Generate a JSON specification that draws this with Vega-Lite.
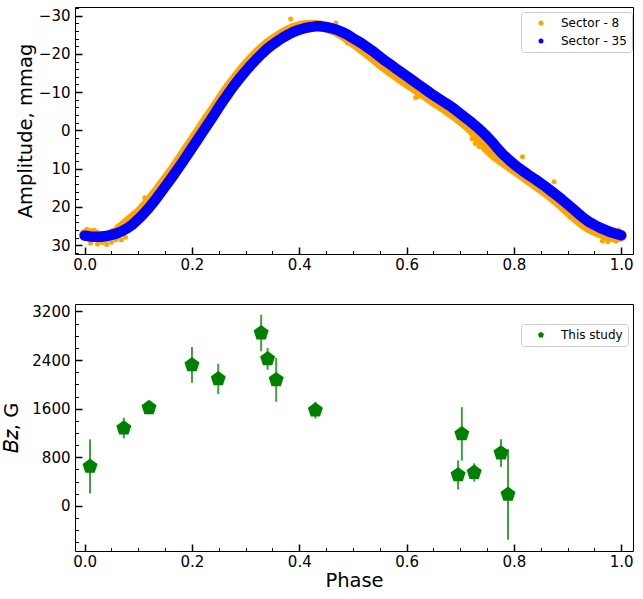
{
  "$schema": "https://vega.github.io/schema/vega-lite/v6.json",
  "padding": {"left": 1, "top": 6, "right": 7, "bottom": 5},
  "config": {
    "font": "DejaVu Sans",
    "view": {"stroke": "black", "strokeWidth": 1},
    "axis": {
      "domain": false, "grid": false,
      "tickColor": "black", "labelColor": "black", "titleColor": "black",
      "labelFontSize": 15, "titleFontSize": 19.5, "titleFontWeight": "normal",
      "labelOverlap": false, "labelBound": false, "labelFlush": false
    },
    "legend": {
      "strokeColor": "#cccccc", "fillColor": "white", "cornerRadius": 3,
      "padding": 5, "labelFontSize": 12, "labelColor": "black",
      "rowPadding": 6, "labelOffset": 14, "symbolOffset": 9, "symbolStrokeWidth": 0
    }
  },
  "datasets": {
    "lightcurve": [
      {"phase":0.00,"amp":27.2,"sector":"Sector - 8"},{"phase":0.01,"amp":27.0,"sector":"Sector - 8"},{"phase":0.02,"amp":27.3,"sector":"Sector - 8"},{"phase":0.03,"amp":27.9,"sector":"Sector - 8"},{"phase":0.04,"amp":27.8,"sector":"Sector - 8"},
      {"phase":0.05,"amp":27.2,"sector":"Sector - 8"},{"phase":0.06,"amp":26.5,"sector":"Sector - 8"},{"phase":0.07,"amp":25.2,"sector":"Sector - 8"},{"phase":0.08,"amp":24.0,"sector":"Sector - 8"},{"phase":0.09,"amp":22.8,"sector":"Sector - 8"},
      {"phase":0.10,"amp":21.7,"sector":"Sector - 8"},{"phase":0.11,"amp":20.2,"sector":"Sector - 8"},{"phase":0.12,"amp":18.6,"sector":"Sector - 8"},{"phase":0.13,"amp":16.8,"sector":"Sector - 8"},{"phase":0.14,"amp":14.9,"sector":"Sector - 8"},
      {"phase":0.15,"amp":13.1,"sector":"Sector - 8"},{"phase":0.16,"amp":11.2,"sector":"Sector - 8"},{"phase":0.17,"amp":9.2,"sector":"Sector - 8"},{"phase":0.18,"amp":7.1,"sector":"Sector - 8"},{"phase":0.19,"amp":5.0,"sector":"Sector - 8"},
      {"phase":0.20,"amp":2.9,"sector":"Sector - 8"},{"phase":0.21,"amp":0.8,"sector":"Sector - 8"},{"phase":0.22,"amp":-1.3,"sector":"Sector - 8"},{"phase":0.23,"amp":-3.4,"sector":"Sector - 8"},{"phase":0.24,"amp":-5.4,"sector":"Sector - 8"},
      {"phase":0.25,"amp":-7.5,"sector":"Sector - 8"},{"phase":0.26,"amp":-9.6,"sector":"Sector - 8"},{"phase":0.27,"amp":-11.6,"sector":"Sector - 8"},{"phase":0.28,"amp":-13.4,"sector":"Sector - 8"},{"phase":0.29,"amp":-15.2,"sector":"Sector - 8"},
      {"phase":0.30,"amp":-16.9,"sector":"Sector - 8"},{"phase":0.31,"amp":-18.5,"sector":"Sector - 8"},{"phase":0.32,"amp":-19.9,"sector":"Sector - 8"},{"phase":0.33,"amp":-21.3,"sector":"Sector - 8"},{"phase":0.34,"amp":-22.5,"sector":"Sector - 8"},
      {"phase":0.35,"amp":-23.5,"sector":"Sector - 8"},{"phase":0.36,"amp":-24.5,"sector":"Sector - 8"},{"phase":0.37,"amp":-25.3,"sector":"Sector - 8"},{"phase":0.38,"amp":-26.1,"sector":"Sector - 8"},{"phase":0.39,"amp":-26.7,"sector":"Sector - 8"},
      {"phase":0.40,"amp":-27.1,"sector":"Sector - 8"},{"phase":0.41,"amp":-27.4,"sector":"Sector - 8"},{"phase":0.42,"amp":-27.5,"sector":"Sector - 8"},{"phase":0.43,"amp":-27.5,"sector":"Sector - 8"},{"phase":0.44,"amp":-27.3,"sector":"Sector - 8"},
      {"phase":0.45,"amp":-27.0,"sector":"Sector - 8"},{"phase":0.46,"amp":-26.5,"sector":"Sector - 8"},{"phase":0.47,"amp":-25.9,"sector":"Sector - 8"},{"phase":0.48,"amp":-25.1,"sector":"Sector - 8"},{"phase":0.49,"amp":-24.1,"sector":"Sector - 8"},
      {"phase":0.50,"amp":-23.1,"sector":"Sector - 8"},{"phase":0.51,"amp":-22.1,"sector":"Sector - 8"},{"phase":0.52,"amp":-21.0,"sector":"Sector - 8"},{"phase":0.53,"amp":-19.9,"sector":"Sector - 8"},{"phase":0.54,"amp":-18.8,"sector":"Sector - 8"},
      {"phase":0.55,"amp":-17.6,"sector":"Sector - 8"},{"phase":0.56,"amp":-16.5,"sector":"Sector - 8"},{"phase":0.57,"amp":-15.4,"sector":"Sector - 8"},{"phase":0.58,"amp":-14.5,"sector":"Sector - 8"},{"phase":0.59,"amp":-13.5,"sector":"Sector - 8"},
      {"phase":0.60,"amp":-12.5,"sector":"Sector - 8"},{"phase":0.61,"amp":-11.6,"sector":"Sector - 8"},{"phase":0.62,"amp":-10.6,"sector":"Sector - 8"},{"phase":0.63,"amp":-9.7,"sector":"Sector - 8"},{"phase":0.64,"amp":-8.7,"sector":"Sector - 8"},
      {"phase":0.65,"amp":-7.7,"sector":"Sector - 8"},{"phase":0.66,"amp":-6.8,"sector":"Sector - 8"},{"phase":0.67,"amp":-5.9,"sector":"Sector - 8"},{"phase":0.68,"amp":-4.9,"sector":"Sector - 8"},{"phase":0.69,"amp":-3.9,"sector":"Sector - 8"},
      {"phase":0.70,"amp":-2.8,"sector":"Sector - 8"},{"phase":0.71,"amp":-1.7,"sector":"Sector - 8"},{"phase":0.72,"amp":-0.4,"sector":"Sector - 8"},{"phase":0.73,"amp":1.2,"sector":"Sector - 8"},{"phase":0.74,"amp":2.9,"sector":"Sector - 8"},
      {"phase":0.75,"amp":4.6,"sector":"Sector - 8"},{"phase":0.76,"amp":6.0,"sector":"Sector - 8"},{"phase":0.77,"amp":7.1,"sector":"Sector - 8"},{"phase":0.78,"amp":8.1,"sector":"Sector - 8"},{"phase":0.79,"amp":9.1,"sector":"Sector - 8"},
      {"phase":0.80,"amp":10.1,"sector":"Sector - 8"},{"phase":0.81,"amp":11.1,"sector":"Sector - 8"},{"phase":0.82,"amp":12.1,"sector":"Sector - 8"},{"phase":0.83,"amp":13.1,"sector":"Sector - 8"},{"phase":0.84,"amp":14.1,"sector":"Sector - 8"},
      {"phase":0.85,"amp":15.1,"sector":"Sector - 8"},{"phase":0.86,"amp":16.1,"sector":"Sector - 8"},{"phase":0.87,"amp":17.2,"sector":"Sector - 8"},{"phase":0.88,"amp":18.4,"sector":"Sector - 8"},{"phase":0.89,"amp":19.6,"sector":"Sector - 8"},
      {"phase":0.90,"amp":20.9,"sector":"Sector - 8"},{"phase":0.91,"amp":22.2,"sector":"Sector - 8"},{"phase":0.92,"amp":23.4,"sector":"Sector - 8"},{"phase":0.93,"amp":24.5,"sector":"Sector - 8"},{"phase":0.94,"amp":25.4,"sector":"Sector - 8"},
      {"phase":0.95,"amp":26.1,"sector":"Sector - 8"},{"phase":0.96,"amp":26.7,"sector":"Sector - 8"},{"phase":0.97,"amp":27.1,"sector":"Sector - 8"},{"phase":0.98,"amp":27.6,"sector":"Sector - 8"},{"phase":0.99,"amp":27.9,"sector":"Sector - 8"},
      {"phase":1.00,"amp":27.6,"sector":"Sector - 8"},
      {"phase":0.00,"amp":27.5,"sector":"Sector - 35"},{"phase":0.01,"amp":27.7,"sector":"Sector - 35"},{"phase":0.02,"amp":27.8,"sector":"Sector - 35"},{"phase":0.03,"amp":27.8,"sector":"Sector - 35"},{"phase":0.04,"amp":27.6,"sector":"Sector - 35"},
      {"phase":0.05,"amp":27.3,"sector":"Sector - 35"},{"phase":0.06,"amp":26.9,"sector":"Sector - 35"},{"phase":0.07,"amp":26.3,"sector":"Sector - 35"},{"phase":0.08,"amp":25.5,"sector":"Sector - 35"},{"phase":0.09,"amp":24.5,"sector":"Sector - 35"},
      {"phase":0.10,"amp":23.2,"sector":"Sector - 35"},{"phase":0.11,"amp":21.8,"sector":"Sector - 35"},{"phase":0.12,"amp":20.2,"sector":"Sector - 35"},{"phase":0.13,"amp":18.5,"sector":"Sector - 35"},{"phase":0.14,"amp":16.6,"sector":"Sector - 35"},
      {"phase":0.15,"amp":14.7,"sector":"Sector - 35"},{"phase":0.16,"amp":12.8,"sector":"Sector - 35"},{"phase":0.17,"amp":10.8,"sector":"Sector - 35"},{"phase":0.18,"amp":8.8,"sector":"Sector - 35"},{"phase":0.19,"amp":6.7,"sector":"Sector - 35"},
      {"phase":0.20,"amp":4.6,"sector":"Sector - 35"},{"phase":0.21,"amp":2.5,"sector":"Sector - 35"},{"phase":0.22,"amp":0.4,"sector":"Sector - 35"},{"phase":0.23,"amp":-1.7,"sector":"Sector - 35"},{"phase":0.24,"amp":-3.8,"sector":"Sector - 35"},
      {"phase":0.25,"amp":-6.0,"sector":"Sector - 35"},{"phase":0.26,"amp":-8.1,"sector":"Sector - 35"},{"phase":0.27,"amp":-10.1,"sector":"Sector - 35"},{"phase":0.28,"amp":-12.0,"sector":"Sector - 35"},{"phase":0.29,"amp":-13.8,"sector":"Sector - 35"},
      {"phase":0.30,"amp":-15.5,"sector":"Sector - 35"},{"phase":0.31,"amp":-17.1,"sector":"Sector - 35"},{"phase":0.32,"amp":-18.6,"sector":"Sector - 35"},{"phase":0.33,"amp":-20.0,"sector":"Sector - 35"},{"phase":0.34,"amp":-21.3,"sector":"Sector - 35"},
      {"phase":0.35,"amp":-22.4,"sector":"Sector - 35"},{"phase":0.36,"amp":-23.4,"sector":"Sector - 35"},{"phase":0.37,"amp":-24.3,"sector":"Sector - 35"},{"phase":0.38,"amp":-25.1,"sector":"Sector - 35"},{"phase":0.39,"amp":-25.8,"sector":"Sector - 35"},
      {"phase":0.40,"amp":-26.3,"sector":"Sector - 35"},{"phase":0.41,"amp":-26.7,"sector":"Sector - 35"},{"phase":0.42,"amp":-27.0,"sector":"Sector - 35"},{"phase":0.43,"amp":-27.2,"sector":"Sector - 35"},{"phase":0.44,"amp":-27.2,"sector":"Sector - 35"},
      {"phase":0.45,"amp":-27.0,"sector":"Sector - 35"},{"phase":0.46,"amp":-26.7,"sector":"Sector - 35"},{"phase":0.47,"amp":-26.3,"sector":"Sector - 35"},{"phase":0.48,"amp":-25.7,"sector":"Sector - 35"},{"phase":0.49,"amp":-25.0,"sector":"Sector - 35"},
      {"phase":0.50,"amp":-24.1,"sector":"Sector - 35"},{"phase":0.51,"amp":-23.3,"sector":"Sector - 35"},{"phase":0.52,"amp":-22.4,"sector":"Sector - 35"},{"phase":0.53,"amp":-21.4,"sector":"Sector - 35"},{"phase":0.54,"amp":-20.4,"sector":"Sector - 35"},
      {"phase":0.55,"amp":-19.3,"sector":"Sector - 35"},{"phase":0.56,"amp":-18.2,"sector":"Sector - 35"},{"phase":0.57,"amp":-17.2,"sector":"Sector - 35"},{"phase":0.58,"amp":-16.2,"sector":"Sector - 35"},{"phase":0.59,"amp":-15.2,"sector":"Sector - 35"},
      {"phase":0.60,"amp":-14.2,"sector":"Sector - 35"},{"phase":0.61,"amp":-13.2,"sector":"Sector - 35"},{"phase":0.62,"amp":-12.2,"sector":"Sector - 35"},{"phase":0.63,"amp":-11.2,"sector":"Sector - 35"},{"phase":0.64,"amp":-10.2,"sector":"Sector - 35"},
      {"phase":0.65,"amp":-9.2,"sector":"Sector - 35"},{"phase":0.66,"amp":-8.3,"sector":"Sector - 35"},{"phase":0.67,"amp":-7.4,"sector":"Sector - 35"},{"phase":0.68,"amp":-6.5,"sector":"Sector - 35"},{"phase":0.69,"amp":-5.5,"sector":"Sector - 35"},
      {"phase":0.70,"amp":-4.4,"sector":"Sector - 35"},{"phase":0.71,"amp":-3.3,"sector":"Sector - 35"},{"phase":0.72,"amp":-2.2,"sector":"Sector - 35"},{"phase":0.73,"amp":-1.0,"sector":"Sector - 35"},{"phase":0.74,"amp":0.2,"sector":"Sector - 35"},
      {"phase":0.75,"amp":1.6,"sector":"Sector - 35"},{"phase":0.76,"amp":3.1,"sector":"Sector - 35"},{"phase":0.77,"amp":4.8,"sector":"Sector - 35"},{"phase":0.78,"amp":6.3,"sector":"Sector - 35"},{"phase":0.79,"amp":7.6,"sector":"Sector - 35"},
      {"phase":0.80,"amp":8.8,"sector":"Sector - 35"},{"phase":0.81,"amp":9.9,"sector":"Sector - 35"},{"phase":0.82,"amp":10.9,"sector":"Sector - 35"},{"phase":0.83,"amp":11.9,"sector":"Sector - 35"},{"phase":0.84,"amp":12.8,"sector":"Sector - 35"},
      {"phase":0.85,"amp":13.8,"sector":"Sector - 35"},{"phase":0.86,"amp":14.8,"sector":"Sector - 35"},{"phase":0.87,"amp":15.9,"sector":"Sector - 35"},{"phase":0.88,"amp":17.0,"sector":"Sector - 35"},{"phase":0.89,"amp":18.1,"sector":"Sector - 35"},
      {"phase":0.90,"amp":19.3,"sector":"Sector - 35"},{"phase":0.91,"amp":20.5,"sector":"Sector - 35"},{"phase":0.92,"amp":21.7,"sector":"Sector - 35"},{"phase":0.93,"amp":22.9,"sector":"Sector - 35"},{"phase":0.94,"amp":23.9,"sector":"Sector - 35"},
      {"phase":0.95,"amp":24.7,"sector":"Sector - 35"},{"phase":0.96,"amp":25.4,"sector":"Sector - 35"},{"phase":0.97,"amp":26.0,"sector":"Sector - 35"},{"phase":0.98,"amp":26.6,"sector":"Sector - 35"},{"phase":0.99,"amp":27.0,"sector":"Sector - 35"},
      {"phase":1.00,"amp":27.4,"sector":"Sector - 35"}
    ],
    "scatter8": [
      {"phase":0.004,"amp":25.8,"sector":"Sector - 8"},{"phase":0.011,"amp":29.4,"sector":"Sector - 8"},{"phase":0.018,"amp":26.1,"sector":"Sector - 8"},{"phase":0.024,"amp":29.7,"sector":"Sector - 8"},
      {"phase":0.033,"amp":29.3,"sector":"Sector - 8"},{"phase":0.041,"amp":29.8,"sector":"Sector - 8"},{"phase":0.050,"amp":29.2,"sector":"Sector - 8"},{"phase":0.058,"amp":28.6,"sector":"Sector - 8"},
      {"phase":0.062,"amp":25.0,"sector":"Sector - 8"},{"phase":0.068,"amp":28.6,"sector":"Sector - 8"},{"phase":0.076,"amp":27.9,"sector":"Sector - 8"},{"phase":0.088,"amp":22.2,"sector":"Sector - 8"},
      {"phase":0.112,"amp":17.6,"sector":"Sector - 8"},{"phase":0.148,"amp":12.6,"sector":"Sector - 8"},{"phase":0.262,"amp":-10.8,"sector":"Sector - 8"},{"phase":0.384,"amp":-29.1,"sector":"Sector - 8"},
      {"phase":0.468,"amp":-28.1,"sector":"Sector - 8"},{"phase":0.490,"amp":-22.8,"sector":"Sector - 8"},{"phase":0.505,"amp":-21.9,"sector":"Sector - 8"},{"phase":0.617,"amp":-8.6,"sector":"Sector - 8"},
      {"phase":0.622,"amp":-8.9,"sector":"Sector - 8"},{"phase":0.628,"amp":-9.4,"sector":"Sector - 8"},{"phase":0.722,"amp":2.2,"sector":"Sector - 8"},{"phase":0.728,"amp":3.4,"sector":"Sector - 8"},
      {"phase":0.735,"amp":4.2,"sector":"Sector - 8"},{"phase":0.765,"amp":6.9,"sector":"Sector - 8"},{"phase":0.775,"amp":8.4,"sector":"Sector - 8"},{"phase":0.816,"amp":6.9,"sector":"Sector - 8"},
      {"phase":0.875,"amp":13.4,"sector":"Sector - 8"},{"phase":0.890,"amp":20.6,"sector":"Sector - 8"},{"phase":0.905,"amp":22.0,"sector":"Sector - 8"},{"phase":0.955,"amp":27.2,"sector":"Sector - 8"},
      {"phase":0.965,"amp":28.9,"sector":"Sector - 8"},{"phase":0.975,"amp":29.1,"sector":"Sector - 8"},{"phase":0.985,"amp":25.8,"sector":"Sector - 8"},{"phase":0.990,"amp":29.0,"sector":"Sector - 8"},
      {"phase":0.995,"amp":26.0,"sector":"Sector - 8"}
    ],
    "field": [
      {"phase":0.010,"bz":650,"err":445,"series":"This study"},
      {"phase":0.073,"bz":1280,"err":170,"series":"This study"},
      {"phase":0.120,"bz":1615,"err":105,"series":"This study"},
      {"phase":0.200,"bz":2320,"err":295,"series":"This study"},
      {"phase":0.249,"bz":2090,"err":250,"series":"This study"},
      {"phase":0.329,"bz":2845,"err":300,"series":"This study"},
      {"phase":0.341,"bz":2420,"err":180,"series":"This study"},
      {"phase":0.357,"bz":2075,"err":360,"series":"This study"},
      {"phase":0.430,"bz":1575,"err":137,"series":"This study"},
      {"phase":0.696,"bz":510,"err":240,"series":"This study"},
      {"phase":0.703,"bz":1185,"err":440,"series":"This study"},
      {"phase":0.726,"bz":550,"err":150,"series":"This study"},
      {"phase":0.776,"bz":870,"err":228,"series":"This study"},
      {"phase":0.789,"bz":190,"err":745,"series":"This study"}
    ]
  },
  "spacing": 30,
  "resolve": {"scale": {"color": "independent"}},
  "vconcat": [
    {
      "width": 558,
      "height": 247,
      "encoding": {
        "x": {
          "field": "phase", "type": "quantitative",
          "scale": {"domain": [-0.018, 1.022], "nice": false, "zero": false},
          "axis": {
            "title": null,
            "values": [0,0.05,0.1,0.15,0.2,0.25,0.3,0.35,0.4,0.45,0.5,0.55,0.6,0.65,0.7,0.75,0.8,0.85,0.9,0.95,1],
            "labelExpr": "abs(datum.value*5 - round(datum.value*5)) < 0.001 ? format(datum.value, '.1f') : ''",
            "labelFontSize": {"condition": {"test": "abs(datum.value*5 - round(datum.value*5)) < 0.001", "value": 15}, "value": 0},
            "tickSize": {"condition": {"test": "abs(datum.value*5 - round(datum.value*5)) < 0.001", "value": -7}, "value": -3.5},
            "tickWidth": {"condition": {"test": "abs(datum.value*5 - round(datum.value*5)) < 0.001", "value": 1.5}, "value": 1},
            "labelPadding": 10
          }
        },
        "y": {
          "field": "amp", "type": "quantitative",
          "scale": {"domain": [-32.25, 32.3], "reverse": true, "nice": false, "zero": false},
          "axis": {
            "title": "Amplitude, mmag",
            "values": [-32,-30,-28,-26,-24,-22,-20,-18,-16,-14,-12,-10,-8,-6,-4,-2,0,2,4,6,8,10,12,14,16,18,20,22,24,26,28,30,32],
            "labelExpr": "datum.value % 10 === 0 ? datum.label : ''",
            "labelFontSize": {"condition": {"test": "datum.value % 10 === 0", "value": 15}, "value": 0},
            "tickSize": {"condition": {"test": "datum.value % 10 === 0", "value": -7}, "value": -3.5},
            "tickWidth": {"condition": {"test": "datum.value % 10 === 0", "value": 1.5}, "value": 1},
            "labelPadding": 12,
            "titlePadding": 3
          }
        }
      },
      "layer": [
        {
          "data": {"name": "lightcurve"},
          "transform": [{"filter": "datum.sector === 'Sector - 8'"}],
          "mark": {"type": "line", "color": "orange", "strokeWidth": 11, "strokeCap": "round", "strokeJoin": "round"}
        },
        {
          "data": {"name": "lightcurve"},
          "transform": [{"filter": "datum.sector === 'Sector - 8'"}],
          "mark": {"type": "point", "filled": true, "size": 25, "opacity": 1},
          "encoding": {
            "color": {
              "field": "sector", "type": "nominal",
              "scale": {"domain": ["Sector - 8", "Sector - 35"], "range": ["orange", "blue"]},
              "legend": {"title": null, "orient": "none", "legendX": 446, "legendY": 5, "symbolSize": 25, "symbolType": "circle"}
            }
          }
        },
        {
          "data": {"name": "scatter8"},
          "mark": {"type": "point", "filled": true, "size": 25, "opacity": 1},
          "encoding": {"color": {"field": "sector", "type": "nominal"}}
        },
        {
          "data": {"name": "lightcurve"},
          "transform": [{"filter": "datum.sector === 'Sector - 35'"}],
          "mark": {"type": "line", "color": "blue", "strokeWidth": 10.5, "strokeCap": "round", "strokeJoin": "round"}
        },
        {
          "data": {"name": "lightcurve"},
          "transform": [{"filter": "datum.sector === 'Sector - 35'"}],
          "mark": {"type": "point", "filled": true, "size": 25, "opacity": 1},
          "encoding": {"color": {"field": "sector", "type": "nominal"}}
        }
      ]
    },
    {
      "width": 558,
      "height": 247,
      "data": {"name": "field"},
      "encoding": {
        "x": {
          "field": "phase", "type": "quantitative",
          "scale": {"domain": [-0.018, 1.022], "nice": false, "zero": false},
          "axis": {
            "title": "Phase",
            "values": [0,0.05,0.1,0.15,0.2,0.25,0.3,0.35,0.4,0.45,0.5,0.55,0.6,0.65,0.7,0.75,0.8,0.85,0.9,0.95,1],
            "labelExpr": "abs(datum.value*5 - round(datum.value*5)) < 0.001 ? format(datum.value, '.1f') : ''",
            "labelFontSize": {"condition": {"test": "abs(datum.value*5 - round(datum.value*5)) < 0.001", "value": 15}, "value": 0},
            "tickSize": {"condition": {"test": "abs(datum.value*5 - round(datum.value*5)) < 0.001", "value": -7}, "value": -3.5},
            "tickWidth": {"condition": {"test": "abs(datum.value*5 - round(datum.value*5)) < 0.001", "value": 1.5}, "value": 1},
            "labelPadding": 10,
            "titlePadding": 2
          }
        },
        "y": {
          "field": "bz", "type": "quantitative",
          "scale": {"domain": [-741, 3322], "nice": false, "zero": false},
          "axis": {
            "title": "𝐵𝑧, G",
            "values": [-600,-400,-200,0,200,400,600,800,1000,1200,1400,1600,1800,2000,2200,2400,2600,2800,3000,3200],
            "labelExpr": "datum.value % 800 === 0 ? format(datum.value, 'd') : ''",
            "labelFontSize": {"condition": {"test": "datum.value % 800 === 0", "value": 15}, "value": 0},
            "tickSize": {"condition": {"test": "datum.value % 800 === 0", "value": -7}, "value": -3.5},
            "tickWidth": {"condition": {"test": "datum.value % 800 === 0", "value": 1.5}, "value": 1},
            "labelPadding": 12,
            "titlePadding": 10
          }
        }
      },
      "layer": [
        {
          "mark": {"type": "errorbar", "ticks": false, "thickness": 2, "color": "green", "opacity": 0.75},
          "encoding": {"yError": {"field": "err"}}
        },
        {
          "mark": {"type": "point", "filled": true, "opacity": 1, "size": 250, "shape": "M0,-1L0.951,-0.309L0.588,0.809L-0.588,0.809L-0.951,-0.309Z"},
          "encoding": {
            "color": {
              "field": "series", "type": "nominal",
              "scale": {"range": ["green"]},
              "legend": {"title": null, "orient": "none", "legendX": 446, "legendY": 20, "symbolSize": 40, "symbolType": "M0,-1L0.951,-0.309L0.588,0.809L-0.588,0.809L-0.951,-0.309Z"}
            }
          }
        }
      ]
    }
  ]
}
